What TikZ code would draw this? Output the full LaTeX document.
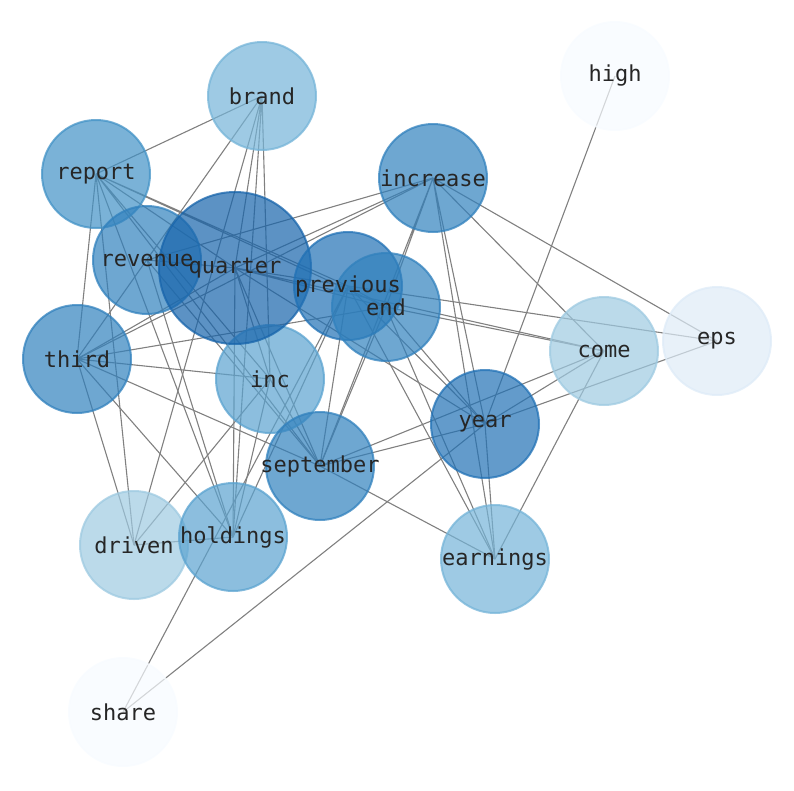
\documentclass[tikz,border=0pt]{standalone}
\usepackage{fontspec}
\setmonofont{DejaVu Sans Mono}
\usetikzlibrary{backgrounds}

\definecolor{blue0}{HTML}{F7FBFF}
\definecolor{blue1}{HTML}{DEEBF7}
\definecolor{blue2}{HTML}{9ECAE1}
\definecolor{blue3}{HTML}{75B4D8}
\definecolor{blue4}{HTML}{5BA3D0}
\definecolor{blue5}{HTML}{4292C6}
\definecolor{blue6}{HTML}{3181BD}
\definecolor{blue7}{HTML}{2171B5}
\definecolor{blue8}{HTML}{1764AB}

\tikzset{
  word/.style={circle, minimum size=108pt, inner sep=0pt, fill=#1, draw=#1,
    line width=2pt, fill opacity=0.7, draw opacity=0.75},
  tag/.style={inner sep=0pt, text=black!85, font=\ttfamily\fontsize{22}{22}\selectfont},
  link/.style={draw=black!50, line width=1.1pt}
}

\begin{document}
\begin{tikzpicture}[x=1pt, y=-1pt]
\useasboundingbox (0,0) rectangle (794,790);

\node[word=blue0] (high) at (615,76) {};
\node[word=blue0] (share) at (123,712) {};
\node[word=blue1] (eps) at (717,341) {};
\node[word=blue2] (come) at (604,351) {};
\node[word=blue2] (driven) at (134,545) {};
\node[word=blue3] (brand) at (262,96) {};
\node[word=blue3] (earnings) at (495,559) {};
\node[word=blue4] (holdings) at (233,537) {};
\node[word=blue4] (inc) at (270,379) {};
\node[word=blue5] (report) at (96,174) {};
\node[word=blue6] (increase) at (433,178) {};
\node[word=blue6] (revenue) at (147,260) {};
\node[word=blue6] (third) at (77,359) {};
\node[word=blue6] (september) at (320,466) {};
\node[word=blue8, minimum size=152pt] (quarter) at (235,268) {};
\node[word=blue7] (previous) at (348,286) {};
\node[word=blue6] (end) at (386,307) {};
\node[word=blue7] (year) at (485,424) {};

% labels on top of all circles
\node[tag] (t-high) at (high) {high};
\node[tag] (t-share) at (share) {share};
\node[tag] (t-eps) at (eps) {eps};
\node[tag] (t-come) at (come) {come};
\node[tag] (t-driven) at (driven) {driven};
\node[tag] (t-brand) at (brand) {brand};
\node[tag] (t-earnings) at (earnings) {earnings};
\node[tag] (t-holdings) at (holdings) {holdings};
\node[tag] (t-inc) at (inc) {inc};
\node[tag] (t-report) at (report) {report};
\node[tag] (t-increase) at (increase) {increase};
\node[tag] (t-revenue) at (revenue) {revenue};
\node[tag] (t-third) at (third) {third};
\node[tag] (t-september) at (september) {september};
\node[tag] (t-quarter) at (quarter) {quarter};
\node[tag] (t-previous) at (previous) {previous};
\node[tag] (t-end) at (end) {end};
\node[tag] (t-year) at (year) {year};

\begin{scope}[on background layer]
\draw[link] (brand.center) -- (report.center) (brand.center) -- (third.center)
  (brand.center) -- (quarter.center) (brand.center) -- (driven.center)
  (brand.center) -- (holdings.center) (brand.center) -- (inc.center);
\draw[link] (report.center) -- (third.center) (report.center) -- (driven.center)
  (report.center) -- (holdings.center) (report.center) -- (quarter.center)
  (report.center) -- (previous.center) (report.center) -- (end.center)
  (report.center) -- (inc.center) (report.center) -- (september.center);
\draw[link] (revenue.center) -- (quarter.center) (revenue.center) -- (holdings.center)
  (revenue.center) -- (increase.center) (revenue.center) -- (september.center);
\draw[link] (quarter.center) -- (increase.center) (quarter.center) -- (third.center)
  (quarter.center) -- (holdings.center) (quarter.center) -- (inc.center)
  (quarter.center) -- (september.center) (quarter.center) -- (previous.center)
  (quarter.center) -- (end.center) (quarter.center) -- (year.center)
  (quarter.center) -- (come.center);
\draw[link] (third.center) -- (increase.center) (third.center) -- (inc.center)
  (third.center) -- (end.center) (third.center) -- (september.center)
  (third.center) -- (holdings.center) (third.center) -- (driven.center);
\draw[link] (increase.center) -- (eps.center) (increase.center) -- (come.center)
  (increase.center) -- (year.center) (increase.center) -- (earnings.center)
  (increase.center) -- (end.center) (increase.center) -- (september.center);
\draw[link] (previous.center) -- (eps.center) (previous.center) -- (share.center)
  (previous.center) -- (september.center) (previous.center) -- (holdings.center)
  (previous.center) -- (year.center) (previous.center) -- (earnings.center)
  (previous.center) -- (end.center);
\draw[link] (end.center) -- (come.center) (end.center) -- (september.center)
  (end.center) -- (year.center) (end.center) -- (earnings.center);
\draw[link] (inc.center) -- (driven.center) (inc.center) -- (holdings.center)
  (inc.center) -- (september.center);
\draw[link] (year.center) -- (high.center) (year.center) -- (share.center)
  (year.center) -- (eps.center) (year.center) -- (come.center)
  (year.center) -- (september.center) (year.center) -- (earnings.center);
\draw[link] (come.center) -- (september.center) (come.center) -- (earnings.center)
  (september.center) -- (earnings.center) (driven.center) -- (holdings.center);
\end{scope}
\end{tikzpicture}
\end{document}
